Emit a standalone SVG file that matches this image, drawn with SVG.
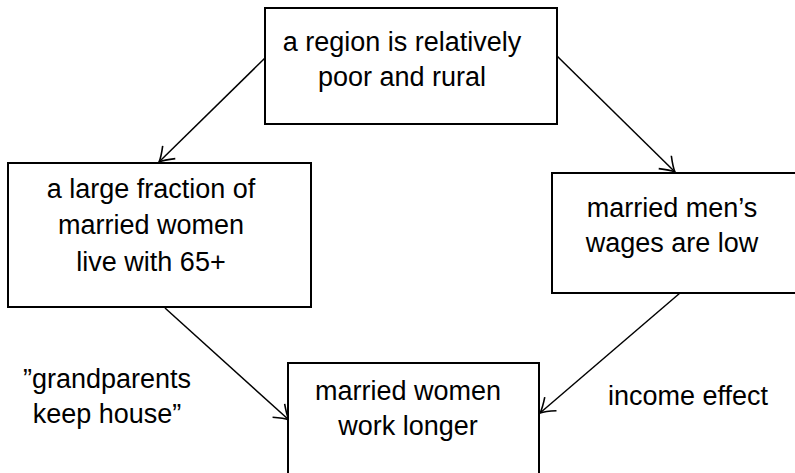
<svg xmlns="http://www.w3.org/2000/svg" width="795" height="473" viewBox="0 0 795 473">
<defs>
<style>
.box{fill:#fff;stroke:#000;stroke-width:2}
.t{font-family:"Liberation Sans",Arial,sans-serif;font-size:27px;fill:#000;text-anchor:middle}
.e{fill:none;stroke:#000;stroke-width:1.5}
</style>
<marker id="ah" viewBox="-16 -10 18 20" markerWidth="18" markerHeight="20" refX="0" refY="0" orient="auto" markerUnits="userSpaceOnUse">
<path d="M-14,-9 Q-5,-2 0,0 Q-5,2 -14,9" fill="none" stroke="#000" stroke-width="1.6"/>
</marker>
</defs>
<rect width="795" height="473" fill="#fff"/>
<g id="edges">
<line class="e" x1="265" y1="58" x2="159" y2="162" marker-end="url(#ah)"/>
<line class="e" x1="557" y1="56" x2="675" y2="172" marker-end="url(#ah)"/>
<line class="e" x1="165" y1="308" x2="289" y2="420" marker-end="url(#ah)"/>
<line class="e" x1="680" y1="293" x2="540" y2="413" marker-end="url(#ah)"/>
</g>
<g id="top">
<rect class="box" x="265" y="8" width="292" height="116"/>
<text class="t" x="402" y="51">a region is relatively</text>
<text class="t" x="402" y="86">poor and rural</text>
</g>
<g id="left">
<rect class="box" x="8" y="163" width="303" height="144"/>
<text class="t" x="151" y="198">a large fraction of</text>
<text class="t" x="151" y="234">married women</text>
<text class="t" x="151" y="271">live with 65+</text>
</g>
<g id="right">
<rect class="box" x="552" y="173" width="260" height="120"/>
<text class="t" x="672" y="217">married men’s</text>
<text class="t" x="672" y="252">wages are low</text>
</g>
<g id="bottom">
<rect class="box" x="288" y="363" width="251" height="130"/>
<text class="t" x="408" y="400">married women</text>
<text class="t" x="408" y="435">work longer</text>
</g>
<g id="labels">
<text class="t" x="107" y="388">”grandparents</text>
<text class="t" x="107" y="423">keep house”</text>
<text class="t" x="688" y="405">income effect</text>
</g>
</svg>
